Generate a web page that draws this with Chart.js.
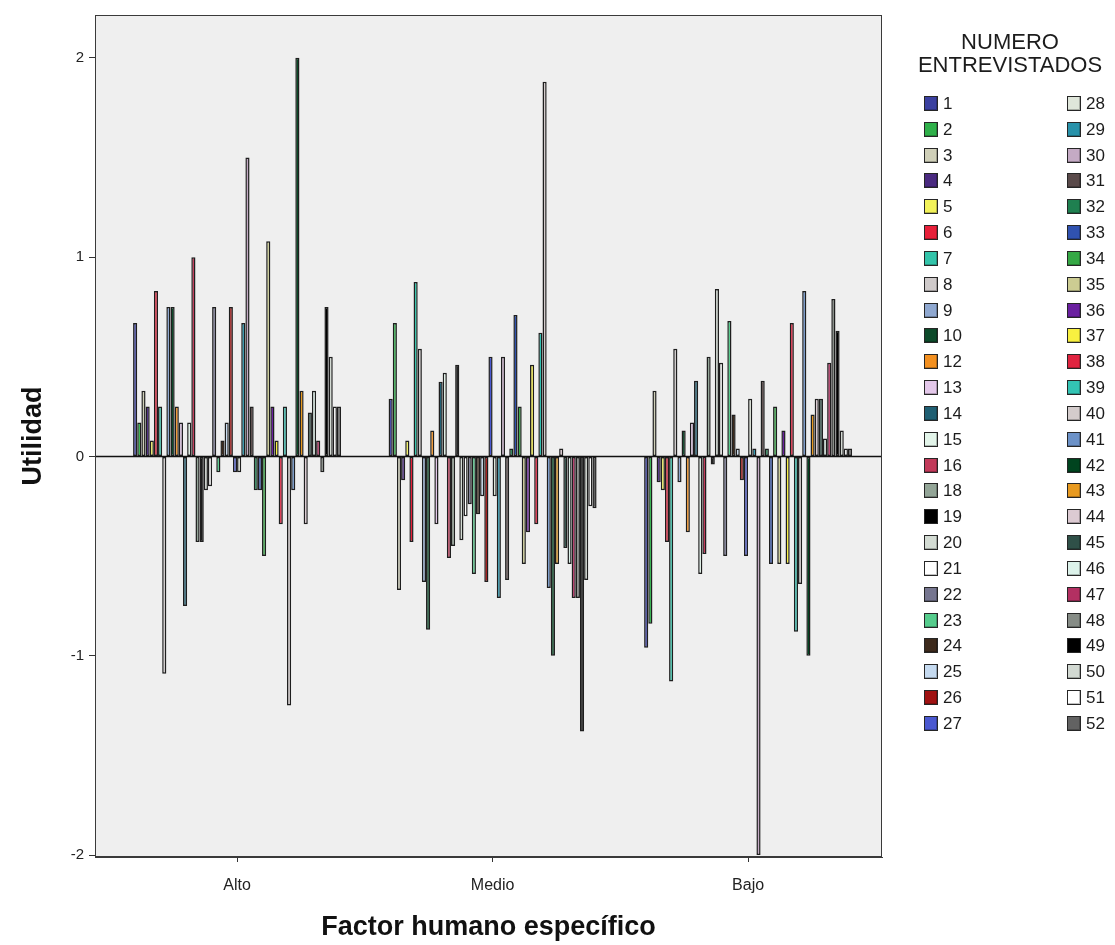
<!DOCTYPE html>
<html>
<head>
<meta charset="utf-8">
<script src="https://cdn.jsdelivr.net/npm/chart.js@4.4.1/dist/chart.umd.min.js"></script>
<style>
  html, body { margin: 0; padding: 0; background: #ffffff; }
  #wrap { position: relative; width: 1115px; height: 945px; }
  #legend { position: absolute; left: 0; top: 0; width: 1115px; height: 945px; pointer-events: none;
            font-family: "Liberation Sans", Arial, sans-serif; color: #1c1c1c; }
  .lg-title { position: absolute; left: 903px; width: 214px; top: 30px; text-align: center;
              font-size: 22px; line-height: 23px; }
  .lg-item { position: absolute; height: 16px; font-size: 17px; line-height: 16px; white-space: nowrap; }
  .lg-sw { position: absolute; left: 0; top: -1px; width: 12px; height: 13px; border: 1px solid #262626;
           box-shadow: inset -1px -1px 0 rgba(0,0,0,0.25); }
  .lg-tx { position: absolute; left: 19px; top: -1px; }
</style>
</head>
<body>
<div id="wrap">
  <canvas id="chart" width="1115" height="945"></canvas>
  <div id="legend"></div>
</div>
<script>
// Factor humano específico: utilidad por entrevistado
const categories = ['Alto', 'Medio', 'Bajo'];

const respondents = [1, 2, 3, 4, 5, 6, 7, 8, 9, 10, 12, 13, 14, 15, 16, 18, 19, 20, 21, 22,
  23, 24, 25, 26, 27, 28, 29, 30, 31, 32, 33, 34, 35, 36, 37, 38, 39, 40, 41, 42,
  43, 44, 45, 46, 47, 48, 49, 50, 51, 52];

const alto = [0.67, 0.17, 0.33, 0.25, 0.08, 0.83, 0.25, -1.09, 0.75, 0.75,
  0.25, 0.17, -0.75, 0.17, 1.00,
  -0.43, -0.43, -0.17, -0.15, 0.75, -0.08, 0.08, 0.17, 0.75, -0.08,
  -0.08, 0.67, 1.50, 0.25, -0.17, -0.17, -0.50, 1.08, 0.25, 0.08,
  -0.34, 0.25, -1.25, -0.17, 2.00, 0.33, -0.34, 0.22, 0.33, 0.08,
  -0.08, 0.75, 0.50, 0.25, 0.25];

const medio = [0.29, 0.67, -0.67, -0.12, 0.08, -0.43, 0.875, 0.54, -0.63, -0.87,
  0.13, -0.34, 0.375, 0.42, -0.51,
  -0.45, 0.46, -0.42, -0.30, -0.24, -0.59, -0.29, -0.20, -0.63, 0.50,
  -0.20, -0.71, 0.50, -0.62, 0.04, 0.71, 0.25, -0.54, -0.38, 0.46,
  -0.34, 0.62, 1.88, -0.66, -1.00, -0.54, 0.04, -0.46, -0.54, -0.71,
  -0.71, -1.38, -0.62, -0.25, -0.26];

const bajo = [-0.96, -0.84, 0.33, -0.13, -0.17, -0.43, -1.13, 0.54, -0.13, 0.13,
  -0.38, 0.17, 0.38, -0.59, -0.49,
  0.50, -0.04, 0.84, 0.47, -0.50, 0.68, 0.21, 0.04, -0.12, -0.50,
  0.29, 0.04, -2.00, 0.38, 0.04, -0.54, 0.25, -0.54, 0.13, -0.54,
  0.67, -0.88, -0.64, 0.83, -1.00, 0.21, 0.29, 0.29, 0.09, 0.47,
  0.79, 0.63, 0.13, 0.04, 0.04];

const yTicks = [-2, -1, 0, 1, 2];

// one fill colour per respondent, same order as `respondents`
const palette = ['#3b40a0', '#2fb04a', '#cfcfb8', '#4a2a80', '#f2f25a', '#e8203a', '#33c4aa', '#cfcaca', '#8fa8d0', '#0d4a2a',
  '#f39020', '#e4c8ea', '#1f5f73', '#e3f5ea', '#c23a5a', '#93a597', '#000000', '#d3dbd3', '#ffffff', '#767690',
  '#55cc8c', '#3d2a1c', '#c5daf0', '#a01212', '#4a58d0', '#dfe6da', '#2892aa', '#c4aac4', '#5a4a4a', '#1f8050',
  '#3052b0', '#35a845', '#cccc92', '#6a20a0', '#f8f040', '#e02440', '#33c4b4', '#d4cccc', '#6c92c8', '#00441f',
  '#e89a20', '#dccad2', '#2f5048', '#dcf2ea', '#b33062', '#868c86', '#000000', '#d2d9d2', '#ffffff', '#626262'];

const byCategory = [alto, medio, bajo];

const datasets = respondents.map((id, k) => ({
  label: String(id),
  data: byCategory.map((vals, j) => ({ x: j, y: vals[k] })),
  backgroundColor: palette[k],
  borderColor: '#1e1e1e',
  borderWidth: 1.5,
  borderSkipped: false
}));

const FONT = '"Liberation Sans", Arial, sans-serif';

// grey plot panel, zero reference line and panel frame
const panel = {
  id: 'panel',
  beforeDatasetsDraw(chart) {
    const { ctx, chartArea: a } = chart;
    ctx.save();
    ctx.fillStyle = '#efefef';
    ctx.fillRect(a.left, a.top, a.right - a.left, a.bottom - a.top);
    ctx.restore();
  },
  afterDatasetsDraw(chart) {
    const { ctx, chartArea: a } = chart;
    const y0 = Math.round(chart.scales.y.getPixelForValue(0)) + 0.5;
    ctx.save();
    ctx.strokeStyle = '#111111';
    ctx.lineWidth = 1.6;
    ctx.beginPath();
    ctx.moveTo(a.left, y0);
    ctx.lineTo(a.right, y0);
    ctx.stroke();
    ctx.strokeStyle = '#3a3a3a';
    ctx.lineWidth = 1;
    ctx.strokeRect(a.left + 0.5, a.top + 0.5, a.right - a.left - 1, a.bottom - a.top - 1);
    ctx.restore();
  }
};

const chart = new Chart(document.getElementById('chart'), {
  type: 'bar',
  data: { datasets },
  plugins: [panel],
  options: {
    responsive: false,
    animation: false,
    devicePixelRatio: 1,
    datasets: { bar: { categoryPercentage: 0.814, barPercentage: 1.0 } },
    layout: { padding: { left: 0, top: 15, right: 233, bottom: 0 } },
    plugins: { legend: { display: false }, tooltip: { enabled: false } },
    scales: {
      x: {
        type: 'linear',
        min: -0.556,
        max: 2.524,
        offset: false,
        afterBuildTicks(scale) { scale.ticks = categories.map((c, i) => ({ value: i })); },
        afterFit(scale) { scale.height = 88; },
        grid: { display: true, drawOnChartArea: false, drawTicks: true, tickLength: 5, tickColor: '#333333', offset: false },
        border: { display: true, color: '#3a3a3a' },
        ticks: {
          callback: (v) => categories[v],
          autoSkip: false, maxRotation: 0,
          padding: 14,
          color: '#222222',
          font: { family: FONT, size: 16 }
        },
        title: {
          display: true,
          text: 'Factor humano específico',
          color: '#111111',
          font: { family: FONT, size: 27, weight: 'bold' },
          padding: { top: 0, bottom: 1 }
        }
      },
      y: {
        min: -2.01,
        max: 2.215,
        afterBuildTicks(scale) { scale.ticks = yTicks.map(v => ({ value: v })); },
        afterFit(scale) { scale.width = 95; },
        grid: { display: true, drawOnChartArea: false, drawTicks: true, tickLength: 6, tickColor: '#333333' },
        border: { display: true, color: '#3a3a3a' },
        ticks: {
          padding: 5,
          color: '#222222',
          font: { family: FONT, size: 15 }
        },
        title: {
          display: true,
          text: 'Utilidad',
          color: '#111111',
          font: { family: FONT, size: 27, weight: 'bold' },
          padding: { top: 17, bottom: 0 }
        }
      }
    }
  }
});

// two-column legend built from the chart's own datasets
(function buildLegend() {
  const host = document.getElementById('legend');
  const title = document.createElement('div');
  title.className = 'lg-title';
  title.innerHTML = 'NUMERO<br>ENTREVISTADOS';
  host.appendChild(title);
  const perColumn = Math.ceil(chart.data.datasets.length / 2);
  const colX = [924, 1067];
  const firstTop = 97;
  const step = 25.83;
  chart.data.datasets.forEach((ds, k) => {
    const col = Math.floor(k / perColumn);
    const row = k % perColumn;
    const item = document.createElement('div');
    item.className = 'lg-item';
    item.style.left = colX[col] + 'px';
    item.style.top = (firstTop + row * step) + 'px';
    const sw = document.createElement('span');
    sw.className = 'lg-sw';
    sw.style.background = ds.backgroundColor;
    const tx = document.createElement('span');
    tx.className = 'lg-tx';
    tx.textContent = ds.label;
    item.appendChild(sw);
    item.appendChild(tx);
    host.appendChild(item);
  });
})();
</script>
</body>
</html>
